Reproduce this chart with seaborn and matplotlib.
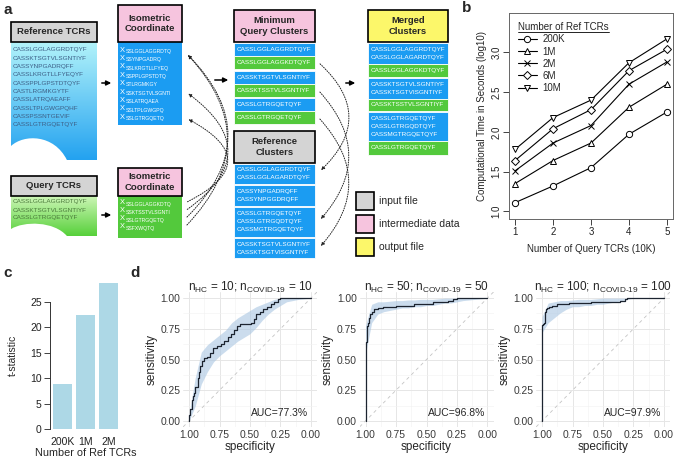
import numpy as np
import matplotlib
matplotlib.use('Agg')
import matplotlib.pyplot as plt
import seaborn as sns
from matplotlib.patches import Rectangle, PathPatch, FancyArrowPatch
from matplotlib.path import Path
from matplotlib.lines import Line2D
from matplotlib.colors import LinearSegmentedColormap

sns.set_theme(style='white', context='paper')
plt.rcParams['font.family'] = ['Liberation Sans', 'DejaVu Sans']
plt.rcParams['mathtext.fontset'] = 'custom'
plt.rcParams['mathtext.rm'] = 'Liberation Sans'
plt.rcParams['mathtext.sf'] = 'Liberation Sans'
plt.rcParams['mathtext.it'] = 'Liberation Sans:italic'
plt.rcParams['mathtext.bf'] = 'Liberation Sans:bold'

# ---- panel a data ----
ref_tcrs = ['CASSLGGLAGGRDTQYF', 'CASSKTSGTVLSGNTIYF', 'CASSYNPGADRQFF', 'CASSLKRGTLLFYEQYF',
            'CASSPPLGPSTDTQYF', 'CASTLRGMKGYTF', 'CASSLATRQAEAFF', 'CASSLTPLGWGPQHF',
            'CASSPSSNTGEVIF', 'CASSLGTRGQETQYF']
ref_iso = ['SSLGGLAGGRDTQ', 'SSYNPGADRQ', 'SSLKRGTLLFYEQ', 'SSPPLGPSTDTQ', 'STLRGMKGY',
           'SSKTSGTVLSGNTI', 'SSLATRQAEA', 'SSLTPLGWGPQ', 'SSLGTRGQETQ']
query_tcrs = ['CASSLGGLAGGRDTQYF', 'CASSKTSGTVLSGNTIYF', 'CASSLGTRGQETQYF']
query_iso = ['SSLGGLAGGKDTQ', 'SSKTSSTVLSGNTI', 'SSLGTRGQETQ', 'SSFXWQTQ']
min_query = ['CASSLGGLAGGRDTQYF', 'CASSLGGLAGGKDTQYF', 'CASSKTSGTVLSGNTIYF',
             'CASSKTSSTVLSGNTIYF', 'CASSLGTRGQETQYF', 'CASSLGTRGQETQYF']
min_query_kind = ['ref', 'query', 'ref', 'query', 'ref', 'query']
ref_clusters = [['CASSLGGLAGGRDTQYF', 'CASSLGGLAGARDTQYF'],
                ['CASSYNPGADRQFF', 'CASSYNPGGDRQFF'],
                ['CASSLGTRGQETQYF', 'CASSLGTRGQDTQYF', 'CASSMGTRGQETQYF'],
                ['CASSKTSGTVLSGNTIYF', 'CASSKTSGTVISGNTIYF']]
merged = [['CASSLGGLAGGRDTQYF', 'CASSLGGLAGARDTQYF'], ['CASSLGGLAGGKDTQYF'],
          ['CASSKTSGTVLSGNTIYF', 'CASSKTSGTVISGNTIYF'], ['CASSKTSSTVLSGNTIYF'],
          ['CASSLGTRGQETQYF', 'CASSLGTRGQDTQYF', 'CASSMGTRGQETQYF'], ['CASSLGTRGQETQYF']]
merged_kind = ['ref', 'query', 'ref', 'query', 'ref', 'query']
legend_items = ['input file', 'intermediate data', 'output file']

# ---- panel b data ----
query_10k = [1, 2, 3, 4, 5]
ref_labels = ['200K', '1M', '2M', '6M', '10M']
time_200k = [1.11, 1.32, 1.55, 1.97, 2.25]
time_1m = [1.35, 1.64, 1.86, 2.31, 2.60]
time_2m = [1.51, 1.86, 2.08, 2.60, 2.88]
time_6m = [1.64, 2.04, 2.28, 2.77, 3.04]
time_10m = [1.78, 2.18, 2.40, 2.87, 3.17]

# ---- panel c data ----
bar_labels = ['200K', '1M', '2M']
t_stat = [8.9, 22.4, 28.7]

# ---- panel d data ----
titles_d = [r'n$_{\mathrm{HC}}$ = 10; n$_{\mathrm{COVID\text{-}19}}$ = 10',
            r'n$_{\mathrm{HC}}$ = 50; n$_{\mathrm{COVID\text{-}19}}$ = 50',
            r'n$_{\mathrm{HC}}$ = 100; n$_{\mathrm{COVID\text{-}19}}$ = 100']
auc_labels = ['AUC=77.3%', 'AUC=96.8%', 'AUC=97.9%']

spec1 = [1.00, 1.00, 0.99, 0.98, 0.97, 0.96, 0.95, 0.93, 0.92, 0.91, 0.89, 0.88, 0.85, 0.83,
         0.80, 0.77, 0.74, 0.71, 0.68, 0.66, 0.63, 0.61, 0.58, 0.55, 0.52, 0.49, 0.47, 0.45,
         0.42, 0.39, 0.36, 0.33, 0.30, 0.27, 0.25, 0.12, 0.00]
sens1 = [0.00, 0.05, 0.10, 0.17, 0.20, 0.23, 0.28, 0.35, 0.40, 0.45, 0.49, 0.51, 0.52, 0.55,
         0.59, 0.61, 0.63, 0.65, 0.68, 0.71, 0.74, 0.77, 0.79, 0.79, 0.79, 0.80, 0.83, 0.87,
         0.89, 0.91, 0.93, 0.95, 0.97, 0.99, 1.00, 1.00, 1.00]
spec2 = [1.00, 1.00, 0.995, 0.99, 0.985, 0.98, 0.97, 0.96, 0.95, 0.93, 0.90, 0.86, 0.80, 0.75,
         0.68, 0.60, 0.52, 0.45, 0.38, 0.32, 0.28, 0.25, 0.12, 0.00]
sens2 = [0.00, 0.58, 0.64, 0.70, 0.77, 0.80, 0.84, 0.87, 0.89, 0.91, 0.92, 0.925, 0.93, 0.935,
         0.94, 0.95, 0.955, 0.965, 0.97, 0.98, 0.99, 1.00, 1.00, 1.00]
spec3 = [1.00, 1.00, 0.99, 0.985, 0.98, 0.975, 0.97, 0.96, 0.94, 0.92, 0.88, 0.84, 0.78, 0.70,
         0.60, 0.50, 0.42, 0.36, 0.32, 0.30, 0.15, 0.00]
sens3 = [0.00, 0.78, 0.79, 0.80, 0.85, 0.89, 0.91, 0.92, 0.93, 0.935, 0.95, 0.955, 0.96, 0.96,
         0.965, 0.965, 0.97, 0.98, 0.99, 1.00, 1.00, 1.00]

ci_spec = [1.0, 0.95, 0.9, 0.85, 0.8, 0.75, 0.7, 0.65, 0.6, 0.55, 0.5, 0.45, 0.4, 0.35, 0.3,
           0.25, 0.2, 0.1, 0.0]
ci_low1 = [0.0, 0.12, 0.30, 0.40, 0.48, 0.53, 0.57, 0.61, 0.65, 0.68, 0.71, 0.76, 0.82, 0.87,
           0.91, 0.94, 0.97, 0.99, 1.0]
ci_high1 = [0.05, 0.35, 0.56, 0.62, 0.66, 0.70, 0.74, 0.80, 0.84, 0.87, 0.90, 0.93, 0.95, 0.97,
            0.99, 1.0, 1.0, 1.0, 1.0]
ci_low2 = [0.55, 0.80, 0.87, 0.89, 0.90, 0.91, 0.92, 0.92, 0.93, 0.93, 0.94, 0.94, 0.95, 0.96,
           0.96, 0.97, 0.98, 0.99, 1.0]
ci_high2 = [0.78, 0.95, 0.97, 0.97, 0.975, 0.98, 0.98, 0.985, 0.985, 0.99, 0.99, 0.99, 0.995,
            1.0, 1.0, 1.0, 1.0, 1.0, 1.0]
ci_low3 = [0.72, 0.80, 0.84, 0.88, 0.91, 0.93, 0.93, 0.94, 0.94, 0.95, 0.95, 0.96, 0.97, 0.98,
           0.99, 1.0, 1.0, 1.0, 1.0]
ci_high3 = [0.85, 0.96, 0.97, 0.98, 0.98, 0.985, 0.99, 0.99, 0.99, 0.995, 1.0, 1.0, 1.0, 1.0,
            1.0, 1.0, 1.0, 1.0, 1.0]

BLUE = '#1b9cf2'
GREEN = '#53c93c'
GRAY = '#d4d4d4'
PINK = '#f6c4de'
YELLOW = '#fcf76a'

W, H = 675, 459
fig = plt.figure(figsize=(W / 100, H / 100), dpi=100)


def box(l, t, r, b):
    return [l / W, 1 - b / H, (r - l) / W, (b - t) / H]


# ================= panel a (diagram) =================
axa = fig.add_axes(box(0, 0, 460, 262))
axa.axis('off')


def header(x0, y0, x1, y1, text, fc):
    axa.add_patch(Rectangle((x0, y0), x1 - x0, y1 - y0, fc=fc, ec='black', lw=1.2, zorder=3))
    axa.text((x0 + x1) / 2, (y0 + y1) / 2, text, ha='center', va='center', fontsize=6.8,
             fontweight='bold', linespacing=1.15, zorder=4)


def doc_shape(x0, x1, y0, y_right, y_left, ctrl, c_top, c_bot):
    w = x1 - x0
    verts = [(x0, y0), (x1, y0), (x1, y_right), (x0 + 0.65 * w, y_right),
             (x0 + 0.5 * w, ctrl), (x0 + 0.15 * w, ctrl), (x0, y_left), (x0, y0)]
    codes = [Path.MOVETO, Path.LINETO, Path.LINETO, Path.LINETO,
             Path.CURVE4, Path.CURVE4, Path.CURVE4, Path.CLOSEPOLY]
    patch = PathPatch(Path(verts, codes), fc='none', ec='none')
    axa.add_patch(patch)
    cmap = LinearSegmentedColormap.from_list('g', [c_top, c_bot])
    im = axa.imshow(np.linspace(0, 1, 256).reshape(-1, 1), cmap=cmap, aspect='auto',
                    extent=[x0, x1, max(y_right, y_left), y0], zorder=1)
    im.set_clip_path(patch)


def rows(x0, x1, spans, groups, kinds):
    for (t, b), lines, k in zip(spans, groups, kinds):
        axa.add_patch(Rectangle((x0, t), x1 - x0, b - t, fc=BLUE if k == 'ref' else GREEN,
                                ec='white', lw=0.6, zorder=2))
        mid = (t + b) / 2
        n = len(lines)
        for j, s in enumerate(lines):
            axa.text(x0 + 3, mid + (j - (n - 1) / 2) * 8, s, color='white', fontsize=4.6,
                     va='center', zorder=4)


def iso_line(y, s):
    # "X" with the trimmed sequence as a subscript
    axa.text(120, y, 'X', color='white', fontsize=5.4, va='center', zorder=4)
    axa.text(125.5, y + 1.3, s, color='white', fontsize=3.7, va='center', zorder=4)


def arrow(p0, p1):
    axa.add_patch(FancyArrowPatch(p0, p1, arrowstyle='-|>', mutation_scale=7, lw=1.1,
                                  color='black', zorder=5))


def dotted(p0, p1, rad):
    axa.add_patch(FancyArrowPatch(p0, p1, connectionstyle=f'arc3,rad={rad}', arrowstyle='-|>',
                                  mutation_scale=5, lw=0.7, ls=(0, (1, 1.5)), color='#222222',
                                  zorder=5))


# reference TCRs document
doc_shape(11, 97, 42, 160, 146, 134, '#b2f3fa', '#23a2f0')
header(11, 22, 97, 42, 'Reference TCRs', GRAY)
for i, s in enumerate(ref_tcrs):
    axa.text(13, 50 + i * 8.33, s, color='#3d5f86', fontsize=4.6, va='center', zorder=4)

# query TCRs document
doc_shape(11, 97, 196, 236, 229, 221, '#cdf6b6', '#56d03a')
header(11, 176, 97, 196, 'Query TCRs', GRAY)
for i, s in enumerate(query_tcrs):
    axa.text(13, 202 + i * 8, s, color='#4a7a3a', fontsize=4.6, va='center', zorder=4)

# isometric coordinates
header(118, 5, 182, 42, 'Isometric\nCoordinate', PINK)
axa.add_patch(Rectangle((118, 42), 64, 83, fc=BLUE, ec='none', zorder=2))
for i, s in enumerate(ref_iso):
    iso_line(50 + i * 8.4, s)
header(118, 168, 182, 196, 'Isometric\nCoordinate', PINK)
axa.add_patch(Rectangle((118, 196), 64, 42, fc=GREEN, ec='none', zorder=2))
for i, s in enumerate(query_iso):
    iso_line(203 + i * 8, s)

arrow((99, 83), (114, 83))
arrow((99, 215), (114, 215))
arrow((212, 80), (231, 80))
arrow((343, 83), (358, 83))

# dotted links between coordinates
for (y0, y1) in [(203, 118), (211, 92), (219, 53), (227, 53)]:
    dotted((185, y0), (186, y1), round(2 * 42 / (y0 - y1), 2))

# minimum query clusters
header(234, 10, 315, 42, 'Minimum\nQuery Clusters', PINK)
rows(234, 315, [(43, 56), (56, 69), (71, 84), (84, 97), (98, 111), (111, 124)],
     [[s] for s in min_query], min_query_kind)

# reference clusters
header(234, 131, 315, 163, 'Reference\nClusters', GRAY)
rows(234, 315, [(164, 184), (185, 206), (207, 237), (238, 258)], ref_clusters,
     ['ref'] * len(ref_clusters))

for (y0, y1) in [(62, 172), (90, 221), (117, 248)]:
    dotted((318, y0), (319, y1), round(-2 * 30 / (y1 - y0), 2))

# merged clusters
header(368, 10, 448, 42, 'Merged\nClusters', YELLOW)
rows(368, 448, [(43, 64), (64, 77), (78, 99), (99, 111), (112, 141), (141, 155)], merged,
     merged_kind)

# legend of panel a
for k, (lab, fc) in enumerate(zip(legend_items, [GRAY, PINK, YELLOW])):
    axa.add_patch(Rectangle((356, 192 + k * 23), 18, 18, fc=fc, ec='black', lw=1.2, zorder=3))
    axa.text(379, 201 + k * 23, lab, fontsize=7.5, va='center')

axa.set_xlim(0, 460)
axa.set_ylim(262, 0)

# ================= panel b =================
axb = fig.add_axes(box(509, 13, 673, 219))
for lab, vals, m, ms in zip(ref_labels, [time_200k, time_1m, time_2m, time_6m, time_10m],
                            ['o', '^', 'x', 'D', 'v'], [4.5, 5, 4.5, 4, 5]):
    axb.plot(query_10k, vals, color='black', lw=0.8, marker=m, ms=ms, mfc='white',
             mec='black', mew=0.7, label=lab)
axb.set_xlim(0.84, 5.16)
axb.set_ylim(0.904, 3.496)
axb.set_xticks(query_10k)
axb.set_yticks([1.0, 1.5, 2.0, 2.5, 3.0])
axb.tick_params(bottom=True, left=True, direction='out', length=4, width=0.6,
                labelsize=7, pad=1.5, colors='#222222')
axb.tick_params(axis='y', labelrotation=90)
for t in axb.get_yticklabels():
    t.set_va('center')
for sp in axb.spines.values():
    sp.set_color('#666666')
    sp.set_linewidth(0.7)
axb.set_xlabel('Number of Query TCRs (10K)', fontsize=7, labelpad=5)
axb.set_ylabel('Computational Time in Seconds (log10)', fontsize=7, labelpad=3)
leg = axb.legend(loc='upper left', bbox_to_anchor=(0.0, 1.0), frameon=False, fontsize=7,
                 title='Number of Ref TCRs', title_fontsize=7, alignment='left',
                 labelspacing=0.22, handlelength=1.9, handletextpad=0.6, borderaxespad=0.55)

# ================= panel c =================
axc = fig.add_axes(box(50, 281.7, 121, 429))
sns.barplot(x=bar_labels, y=t_stat, color='#add8e6', saturation=1, width=0.83,
            edgecolor='none', linewidth=0, ax=axc)
axc.set_xlim(-0.54, 2.54)
axc.set_ylim(0, 29)
axc.set_yticks([0, 5, 10, 15, 20, 25])
for s in ['top', 'right', 'bottom']:
    axc.spines[s].set_visible(False)
axc.spines['left'].set_bounds(0, 25)
axc.spines['left'].set_color('#333333')
axc.spines['left'].set_linewidth(0.7)
axc.tick_params(axis='y', left=True, direction='out', length=4, width=0.6, labelsize=7.5,
                pad=2, colors='#222222')
axc.tick_params(axis='x', bottom=False, labelsize=7.5, pad=1, colors='#222222')
axc.set_xlabel('Number of Ref TCRs', fontsize=7.8, labelpad=0.5)
axc.set_ylabel('t-statistic', fontsize=7.5, labelpad=9)

# ================= panel d =================
roc_data = [(spec1, sens1, ci_low1, ci_high1), (spec2, sens2, ci_low2, ci_high2),
            (spec3, sens3, ci_low3, ci_high3)]
for k, (sp_, se_, lo, hi) in enumerate(roc_data):
    left = 183 + k * 176.5
    ax = fig.add_axes(box(left, 292, left + 134, 427))
    ax.set_axisbelow(True)
    ax.fill_between(ci_spec, lo, hi, color='#a9c6e2', alpha=0.6, lw=0)
    ax.axline((1, 0), (0, 1), color='#c4c4c4', lw=0.6, ls=(0, (4, 4)))
    ax.plot(sp_, se_, color='#1c2430', lw=0.9, drawstyle='steps-post')
    ax.set_xlim(1.05, -0.05)
    ax.set_ylim(-0.05, 1.05)
    ticks = [1.0, 0.75, 0.5, 0.25, 0.0]
    ax.set_xticks(ticks)
    ax.set_xticklabels([f'{v:.2f}' for v in ticks])
    ax.set_yticks(ticks)
    ax.set_yticklabels([f'{v:.2f}' for v in ticks])
    ax.set_xticks([0.875, 0.625, 0.375, 0.125], minor=True)
    ax.set_yticks([0.875, 0.625, 0.375, 0.125], minor=True)
    ax.grid(which='major', color='#e6e6e6', lw=0.7)
    ax.grid(which='minor', color='#f1f1f1', lw=0.4)
    for s in ax.spines.values():
        s.set_visible(False)
    ax.tick_params(which='both', length=0, labelsize=7.4, colors='#3a3a3a', pad=2)
    ax.set_xlabel('specificity', fontsize=8.5, labelpad=1)
    ax.set_ylabel('sensitivity', fontsize=8.5, labelpad=2)
    ax.set_title(titles_d[k], fontsize=8.5, pad=1)
    ax.text(0.02, 0.065, auc_labels[k], ha='right', va='center', fontsize=7.5)

# panel letters
for lab, x, y in [('a', 3, 10), ('b', 462, 8), ('c', 3, 273), ('d', 130, 273)]:
    fig.text(x / W, 1 - y / H, lab, fontsize=11, fontweight='bold', ha='left', va='center')

# underline the legend title of panel b
fig.canvas.draw()
bb = leg.get_title().get_window_extent()
fig.add_artist(Line2D([bb.x0 / W, bb.x1 / W], [(bb.y0 + 0.5) / H] * 2,
                      transform=fig.transFigure, color='black', lw=0.6))

fig.savefig('out.png', dpi=100)
